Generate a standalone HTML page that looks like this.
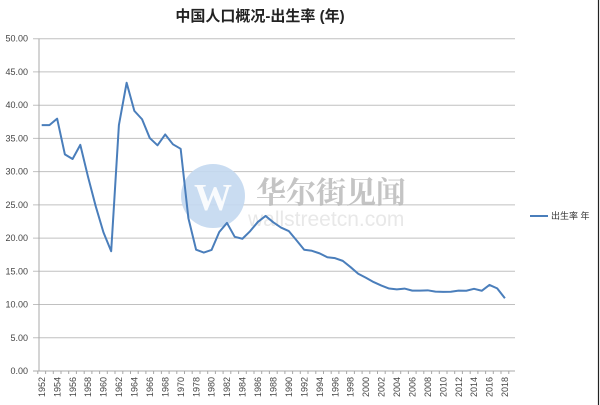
<!DOCTYPE html>
<html><head><meta charset="utf-8"><style>
html,body{margin:0;padding:0;background:#fff;}
svg{display:block;}
</style></head><body>
<svg width="600" height="405" viewBox="0 0 600 405" xmlns="http://www.w3.org/2000/svg">
<rect width="600" height="405" fill="#fff"/>
<line x1="598.5" y1="0" x2="598.5" y2="405" stroke="#222" stroke-width="1.2"/>
<text x="260" y="21" text-anchor="middle" font-family="Liberation Sans, 'Noto Sans CJK SC', sans-serif" font-size="15" font-weight="bold" fill="#222">中国人口概况-出生率 (年)</text>
<g stroke="#c0c0c0" stroke-width="1">
<line x1="33" y1="38.7" x2="515" y2="38.7"/>
<line x1="33" y1="71.9" x2="515" y2="71.9"/>
<line x1="33" y1="105.2" x2="515" y2="105.2"/>
<line x1="33" y1="138.4" x2="515" y2="138.4"/>
<line x1="33" y1="171.6" x2="515" y2="171.6"/>
<line x1="33" y1="204.9" x2="515" y2="204.9"/>
<line x1="33" y1="238.1" x2="515" y2="238.1"/>
<line x1="33" y1="271.3" x2="515" y2="271.3"/>
<line x1="33" y1="304.5" x2="515" y2="304.5"/>
<line x1="33" y1="337.8" x2="515" y2="337.8"/>
</g>
<line x1="33" y1="371" x2="515" y2="371" stroke="#a8a8a8" stroke-width="1"/>
<line x1="39" y1="38.7" x2="39" y2="371" stroke="#a8a8a8" stroke-width="1"/>
<g font-family="Liberation Sans, sans-serif" font-size="9" fill="#444" text-anchor="end">
<text x="28" y="41.7">50.00</text>
<text x="28" y="74.9">45.00</text>
<text x="28" y="108.2">40.00</text>
<text x="28" y="141.4">35.00</text>
<text x="28" y="174.6">30.00</text>
<text x="28" y="207.9">25.00</text>
<text x="28" y="241.1">20.00</text>
<text x="28" y="274.3">15.00</text>
<text x="28" y="307.5">10.00</text>
<text x="28" y="340.8">5.00</text>
<text x="28" y="374">0.00</text>
</g>
<path stroke="#a8a8a8" stroke-width="1" d="M37.8 371v3M45.6 371v3M53.3 371v3M61 371v3M68.7 371v3M76.4 371v3M84.2 371v3M91.9 371v3M99.6 371v3M107.3 371v3M115 371v3M122.8 371v3M130.5 371v3M138.2 371v3M145.9 371v3M153.6 371v3M161.4 371v3M169.1 371v3M176.8 371v3M184.5 371v3M192.2 371v3M200 371v3M207.7 371v3M215.4 371v3M223.1 371v3M230.8 371v3M238.6 371v3M246.3 371v3M254 371v3M261.7 371v3M269.4 371v3M277.2 371v3M284.9 371v3M292.6 371v3M300.3 371v3M308 371v3M315.8 371v3M323.5 371v3M331.2 371v3M338.9 371v3M346.6 371v3M354.4 371v3M362.1 371v3M369.8 371v3M377.5 371v3M385.2 371v3M393 371v3M400.7 371v3M408.4 371v3M416.1 371v3M423.8 371v3M431.6 371v3M439.3 371v3M447 371v3M454.7 371v3M462.4 371v3M470.2 371v3M477.9 371v3M485.6 371v3M493.3 371v3M501 371v3M508.8 371v3"/>
<g font-family="Liberation Sans, sans-serif" font-size="9" fill="#444" text-anchor="end">
<text transform="translate(44.9,377) rotate(-90)">1952</text>
<text transform="translate(60.3,377) rotate(-90)">1954</text>
<text transform="translate(75.8,377) rotate(-90)">1956</text>
<text transform="translate(91.2,377) rotate(-90)">1958</text>
<text transform="translate(106.7,377) rotate(-90)">1960</text>
<text transform="translate(122.1,377) rotate(-90)">1962</text>
<text transform="translate(137.5,377) rotate(-90)">1964</text>
<text transform="translate(153,377) rotate(-90)">1966</text>
<text transform="translate(168.4,377) rotate(-90)">1968</text>
<text transform="translate(183.9,377) rotate(-90)">1970</text>
<text transform="translate(199.3,377) rotate(-90)">1978</text>
<text transform="translate(214.7,377) rotate(-90)">1980</text>
<text transform="translate(230.2,377) rotate(-90)">1982</text>
<text transform="translate(245.6,377) rotate(-90)">1984</text>
<text transform="translate(261.1,377) rotate(-90)">1986</text>
<text transform="translate(276.5,377) rotate(-90)">1988</text>
<text transform="translate(291.9,377) rotate(-90)">1990</text>
<text transform="translate(307.4,377) rotate(-90)">1992</text>
<text transform="translate(322.8,377) rotate(-90)">1994</text>
<text transform="translate(338.3,377) rotate(-90)">1996</text>
<text transform="translate(353.7,377) rotate(-90)">1998</text>
<text transform="translate(369.1,377) rotate(-90)">2000</text>
<text transform="translate(384.6,377) rotate(-90)">2002</text>
<text transform="translate(400,377) rotate(-90)">2004</text>
<text transform="translate(415.5,377) rotate(-90)">2006</text>
<text transform="translate(430.9,377) rotate(-90)">2008</text>
<text transform="translate(446.3,377) rotate(-90)">2010</text>
<text transform="translate(461.8,377) rotate(-90)">2012</text>
<text transform="translate(477.2,377) rotate(-90)">2014</text>
<text transform="translate(492.7,377) rotate(-90)">2016</text>
<text transform="translate(508.1,377) rotate(-90)">2018</text>
</g>
<!-- watermark -->
<g>
<text x="248" y="226" font-family="Liberation Sans, sans-serif" font-size="21" fill="#e8e8e8">wallstreetcn.com</text>
<circle cx="213" cy="196" r="32" fill="#c3d8f0" opacity="0.9"/>
<text x="213" y="210" text-anchor="middle" font-family="Liberation Serif, serif" font-size="38" font-weight="bold" fill="#fff" opacity="0.9">W</text>
<text x="256" y="203" font-family="'Noto Serif CJK SC', 'Liberation Serif', serif" font-size="30" font-weight="bold" fill="#bababa" opacity="0.85">华尔街见闻</text>
</g>
<polyline fill="none" stroke="#4a7ebb" stroke-width="2" stroke-linejoin="round" points="41.7,125.1 49.42,125.1 57.14,118.65 64.86,154.34 72.58,159 80.3,144.84 88.02,176.8 95.74,206.31 103.46,232.36 111.18,251.24 118.9,125.03 126.62,82.76 134.34,110.88 142.06,119.25 149.78,138.06 157.5,145.3 165.22,134.47 172.94,144.31 180.66,148.82 188.38,218.08 196.1,249.71 203.82,252.57 211.54,249.98 219.26,232.03 226.98,222.93 234.7,236.82 242.42,238.74 250.14,231.17 257.86,221.93 265.58,215.95 273.3,222.33 281.02,227.58 288.74,231.04 296.46,240.21 304.18,249.78 311.9,250.77 319.62,253.37 327.34,257.22 335.06,258.15 342.78,260.88 350.5,267.06 358.22,273.7 365.94,277.76 373.66,282.08 381.38,285.53 389.1,288.52 396.82,289.32 404.54,288.59 412.26,290.65 419.98,290.58 427.7,290.32 435.42,291.58 443.14,291.91 450.86,291.71 458.58,290.58 466.3,290.72 474.02,288.79 481.74,290.78 489.46,284.93 497.18,288.39 504.9,298.29"/>
<line x1="530" y1="216" x2="548" y2="216" stroke="#4a7ebb" stroke-width="2"/>
<text x="551" y="219" font-family="Liberation Sans, 'Noto Sans CJK SC', sans-serif" font-size="9" fill="#333">出生率 年</text>
</svg>
</body></html>
